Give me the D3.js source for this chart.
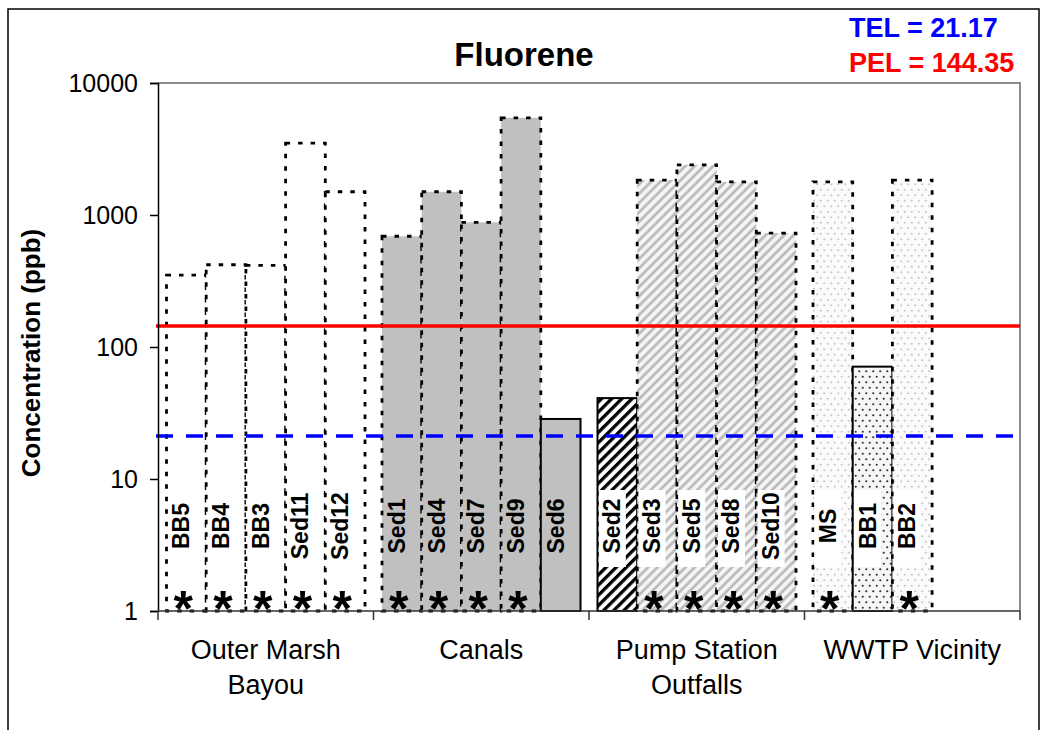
<!DOCTYPE html>
<html>
<head>
<meta charset="utf-8">
<script src="https://cdn.jsdelivr.net/npm/d3@7"></script>
<style>
  html, body { margin: 0; padding: 0; background: #fff; }
  svg { display: block; font-family: "Liberation Sans", Arial, sans-serif; }
</style>
</head>
<body>
<svg id="chart" width="1042" height="730"></svg>
<script>
// ---------------- data ----------------
const groupNames = ["Outer Marsh Bayou", "Canals", "Pump Station Outfalls", "WWTP Vicinity"];
const groupLabelLines = [["Outer Marsh", "Bayou"], ["Canals"], ["Pump Station", "Outfalls"], ["WWTP Vicinity"]];
const sites = ["BB5", "BB4", "BB3", "Sed11", "Sed12",
               "Sed1", "Sed4", "Sed7", "Sed9", "Sed6",
               "Sed2", "Sed3", "Sed5", "Sed8", "Sed10",
               "MS", "BB1", "BB2"];
const siteGroup = [0, 0, 0, 0, 0,
                   1, 1, 1, 1, 1,
                   2, 2, 2, 2, 2,
                   3, 3, 3];
const concentrations = [350, 420, 415, 3500, 1500,
                        690, 1500, 880, 5450, 28.5,
                        41, 1840, 2400, 1780, 730,
                        1780, 71, 1840];
const flagged = [true, true, true, true, true,
                 true, true, true, true, false,
                 false, true, true, true, true,
                 true, false, true];
const yTickValues = [1, 10, 100, 1000, 10000];
const TEL = 21.17;
const PEL = 144.35;
const chartTitle = "Fluorene";
const yTitle = "Concentration (ppb)";

// fill style per site (kept separate from data)
const fillKind = {
  BB5: "white", BB4: "white", BB3: "white", Sed11: "white", Sed12: "white",
  Sed1: "gray", Sed4: "gray", Sed7: "gray", Sed9: "gray", Sed6: "gray",
  Sed2: "blackStripe", Sed3: "grayStripe", Sed5: "grayStripe", Sed8: "grayStripe", Sed10: "grayStripe",
  MS: "lightDot", BB1: "darkDot", BB2: "lightDot"
};

// ---------------- layout ----------------
const svg = d3.select("#chart");
const plot = { left: 158, right: 1020, top: 83, bottom: 611 };

// outer frame
svg.append("rect").attr("x", 8).attr("y", 9).attr("width", 1031).attr("height", 760)
  .attr("fill", "#fff").attr("stroke", "#000").attr("stroke-width", 1.5);

// patterns
const defs = svg.append("defs");
const pBlack = defs.append("pattern").attr("id", "blackStripe").attr("patternUnits", "userSpaceOnUse")
  .attr("width", 7.2).attr("height", 7.2).attr("patternTransform", "rotate(45)");
pBlack.append("rect").attr("width", 7.2).attr("height", 7.2).attr("fill", "#fff");
pBlack.append("rect").attr("width", 3.3).attr("height", 7.2).attr("fill", "#000");

const pGray = defs.append("pattern").attr("id", "grayStripe").attr("patternUnits", "userSpaceOnUse")
  .attr("width", 6.6).attr("height", 6.6).attr("patternTransform", "rotate(45)");
pGray.append("rect").attr("width", 6.6).attr("height", 6.6).attr("fill", "#f4f4f4");
pGray.append("rect").attr("width", 2.8).attr("height", 6.6).attr("fill", "#bdbdbd");

const pDark = defs.append("pattern").attr("id", "darkDot").attr("patternUnits", "userSpaceOnUse")
  .attr("width", 7).attr("height", 11);
pDark.append("rect").attr("width", 7).attr("height", 11).attr("fill", "#f6f6f6");
pDark.append("circle").attr("cx", 1.75).attr("cy", 2.75).attr("r", 1.1).attr("fill", "#333");
pDark.append("circle").attr("cx", 5.25).attr("cy", 8.25).attr("r", 1.1).attr("fill", "#333");

const pLight = defs.append("pattern").attr("id", "lightDot").attr("patternUnits", "userSpaceOnUse")
  .attr("width", 7).attr("height", 11);
pLight.append("rect").attr("width", 7).attr("height", 11).attr("fill", "#fbfbfb");
pLight.append("circle").attr("cx", 1.75).attr("cy", 2.75).attr("r", 1.1).attr("fill", "#c8c8c8");
pLight.append("circle").attr("cx", 5.25).attr("cy", 8.25).attr("r", 1.1).attr("fill", "#c8c8c8");

const fillFor = k => ({
  white: "#ffffff", gray: "#c0c0c0",
  blackStripe: "url(#blackStripe)", grayStripe: "url(#grayStripe)",
  darkDot: "url(#darkDot)", lightDot: "url(#lightDot)"
}[k]);

// scales
const y = d3.scaleLog().domain([1, 10000]).range([plot.bottom, plot.top]);
const x = d3.scaleBand().domain(groupNames).range([plot.left, plot.right]).padding(0);
const slot = d3.scaleBand().domain(d3.range(5)).range([0, x.bandwidth()])
  .paddingInner(0).paddingOuter(0.214);

const rows = sites.map((s, i) => {
  const g = siteGroup[i];
  const idx = siteGroup.slice(0, i).filter(v => v === g).length;
  return { site: s, group: groupNames[g], slot: idx, value: concentrations[i], flag: flagged[i], kind: fillKind[s] };
});

// plot area frame (top & right gray)
svg.append("path")
  .attr("d", `M${plot.left},${plot.top}H${plot.right}V${plot.bottom}`)
  .attr("fill", "none").attr("stroke", "#8c8c8c").attr("stroke-width", 2);

// bars
const bx = d => x(d.group) + slot(d.slot);
svg.append("g").selectAll("rect").data(rows).join("rect")
  .attr("x", bx)
  .attr("y", d => y(d.value))
  .attr("width", slot.bandwidth())
  .attr("height", d => y(1) - y(d.value))
  .attr("fill", d => fillFor(d.kind))
  .attr("stroke", "#000")
  .attr("stroke-width", d => d.flag ? 2.8 : 2)
  .attr("stroke-dasharray", d => d.flag ? "4.5,8" : null);

// label boxes for patterned bars
const labelCY = 526;
const boxed = rows.filter(d => ["blackStripe", "grayStripe", "darkDot", "lightDot"].includes(d.kind));
svg.append("g").selectAll("rect").data(boxed).join("rect")
  .attr("x", d => bx(d) + slot.bandwidth() / 2 - 5 - 13.5)
  .attr("y", labelCY - 36)
  .attr("width", 27)
  .attr("height", 77)
  .attr("fill", "#fff");

// site labels (rotated)
svg.append("g").selectAll("text").data(rows).join("text")
  .attr("transform", d => `translate(${bx(d) + slot.bandwidth() / 2 + 3},${labelCY}) rotate(-90)`)
  .attr("text-anchor", "middle")
  .attr("font-size", 23).attr("font-weight", "bold").attr("fill", "#000")
  .text(d => d.site);

// asterisks
svg.append("g").selectAll("text").data(rows.filter(d => d.flag)).join("text")
  .attr("x", d => bx(d) + slot.bandwidth() / 2 - 3)
  .attr("y", 626)
  .attr("text-anchor", "middle")
  .attr("font-size", 50).attr("font-weight", "bold").attr("fill", "#000")
  .text("*");

// reference lines
svg.append("line").attr("x1", 156).attr("x2", plot.right)
  .attr("y1", y(PEL)).attr("y2", y(PEL))
  .attr("stroke", "#ff0000").attr("stroke-width", 3.5);
svg.append("line").attr("x1", 156).attr("x2", plot.right)
  .attr("y1", y(TEL)).attr("y2", y(TEL))
  .attr("stroke", "#0000ff").attr("stroke-width", 3.5).attr("stroke-dasharray", "17,13");

// y axis
const yAxis = svg.append("g").attr("transform", `translate(${plot.left},0)`)
  .call(d3.axisLeft(y).tickValues(yTickValues).tickFormat(d3.format("d")).tickSize(8).tickPadding(12));
yAxis.select(".domain").attr("stroke", "#000").attr("stroke-width", 1.5);
yAxis.selectAll(".tick line").attr("stroke", "#000").attr("stroke-width", 1.5);
yAxis.selectAll(".tick text").attr("font-size", 25).attr("font-family", "Liberation Sans, Arial, sans-serif").attr("fill", "#000");

// x axis (group boundaries)
const xg = svg.append("g");
xg.append("line").attr("x1", plot.left).attr("x2", plot.right).attr("y1", plot.bottom).attr("y2", plot.bottom)
  .attr("stroke", "#333").attr("stroke-width", 1.5);
const bounds = groupNames.map(g => x(g)).concat([x.range()[1]]);
xg.selectAll("line.tk").data(bounds).join("line").attr("class", "tk")
  .attr("x1", d => d).attr("x2", d => d).attr("y1", plot.bottom).attr("y2", plot.bottom + 9)
  .attr("stroke", "#333").attr("stroke-width", 1.5);
xg.selectAll("text").data(groupNames).join("text")
  .attr("x", g => x(g) + x.bandwidth() / 2)
  .attr("y", 659)
  .attr("text-anchor", "middle").attr("font-size", 27).attr("fill", "#000")
  .each(function (g, i) {
    d3.select(this).selectAll("tspan").data(groupLabelLines[i]).join("tspan")
      .attr("x", x(g) + x.bandwidth() / 2)
      .attr("dy", (d, j) => j === 0 ? 0 : 35)
      .text(d => d);
  });

// title
svg.append("text").attr("x", 524).attr("y", 66).attr("text-anchor", "middle")
  .attr("font-size", 33).attr("font-weight", "bold").text(chartTitle);

// y title
svg.append("text").attr("transform", "translate(40,353) rotate(-90)")
  .attr("text-anchor", "middle").attr("font-size", 26).attr("font-weight", "bold").text(yTitle);

// TEL / PEL annotations
svg.append("text").attr("x", 849).attr("y", 37).attr("font-size", 27).attr("font-weight", "bold")
  .attr("fill", "#0000ff").text(`TEL = ${TEL}`);
svg.append("text").attr("x", 849).attr("y", 72).attr("font-size", 27).attr("font-weight", "bold")
  .attr("fill", "#ff0000").text(`PEL = ${PEL}`);
</script>
</body>
</html>
